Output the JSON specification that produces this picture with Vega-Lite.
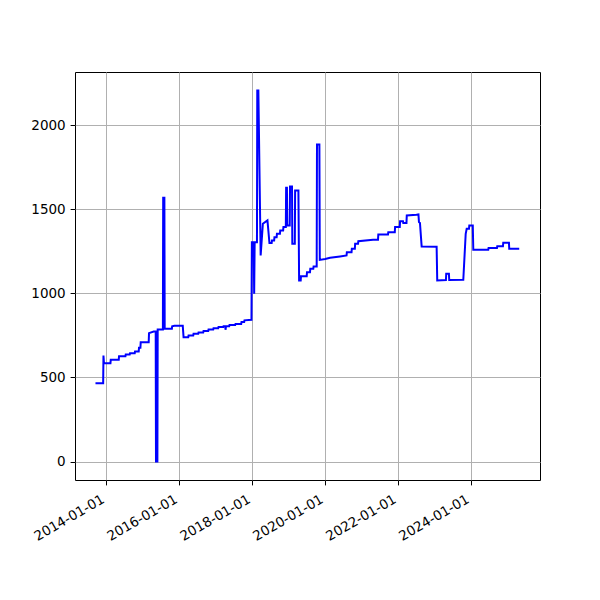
{
  "$schema": "https://vega.github.io/schema/vega-lite/v6.json",
  "width": 465,
  "height": 408,
  "autosize": {"type": "none"},
  "padding": {"left": 75, "top": 72, "right": 60, "bottom": 120},
  "background": "white",
  "config": {
    "view": {"stroke": "black", "strokeWidth": 1},
    "font": "DejaVu Sans",
    "axis": {
      "labelFont": "DejaVu Sans",
      "labelFontSize": 13.5,
      "labelColor": "black",
      "tickColor": "black",
      "tickSize": 4.9,
      "tickWidth": 1,
      "domain": false,
      "grid": true,
      "gridColor": "#b0b0b0",
      "gridWidth": 1,
      "title": null,
      "labelPadding": 4.9
    }
  },
  "data": {
    "values": [
      {"d": "2013-09-13", "v": 466},
      {"d": "2013-11-29", "v": 466},
      {"d": "2013-12-02", "v": 631},
      {"d": "2013-12-07", "v": 585},
      {"d": "2014-02-10", "v": 585},
      {"d": "2014-02-13", "v": 605},
      {"d": "2014-05-04", "v": 605},
      {"d": "2014-05-07", "v": 627},
      {"d": "2014-07-10", "v": 627},
      {"d": "2014-07-13", "v": 637},
      {"d": "2014-08-22", "v": 637},
      {"d": "2014-08-25", "v": 645},
      {"d": "2014-10-11", "v": 645},
      {"d": "2014-10-14", "v": 655},
      {"d": "2014-11-20", "v": 655},
      {"d": "2014-11-23", "v": 677},
      {"d": "2014-12-07", "v": 677},
      {"d": "2014-12-10", "v": 710},
      {"d": "2015-02-28", "v": 710},
      {"d": "2015-03-03", "v": 764},
      {"d": "2015-04-19", "v": 774},
      {"d": "2015-05-09", "v": 774},
      {"d": "2015-05-12", "v": 0},
      {"d": "2015-05-26", "v": 0},
      {"d": "2015-05-29", "v": 786},
      {"d": "2015-07-20", "v": 786},
      {"d": "2015-07-23", "v": 1570},
      {"d": "2015-08-04", "v": 1570},
      {"d": "2015-08-07", "v": 790},
      {"d": "2015-10-18", "v": 790},
      {"d": "2015-10-21", "v": 805},
      {"d": "2015-11-12", "v": 808},
      {"d": "2016-02-04", "v": 808},
      {"d": "2016-02-12", "v": 740},
      {"d": "2016-03-30", "v": 740},
      {"d": "2016-04-02", "v": 750},
      {"d": "2016-05-19", "v": 750},
      {"d": "2016-05-22", "v": 760},
      {"d": "2016-07-08", "v": 760},
      {"d": "2016-07-11", "v": 768},
      {"d": "2016-08-27", "v": 768},
      {"d": "2016-08-30", "v": 776},
      {"d": "2016-10-16", "v": 776},
      {"d": "2016-10-19", "v": 785},
      {"d": "2016-12-05", "v": 785},
      {"d": "2016-12-08", "v": 793},
      {"d": "2017-01-24", "v": 793},
      {"d": "2017-01-27", "v": 800},
      {"d": "2017-03-15", "v": 800},
      {"d": "2017-03-18", "v": 805},
      {"d": "2017-04-04", "v": 805},
      {"d": "2017-04-07", "v": 784},
      {"d": "2017-04-12", "v": 805},
      {"d": "2017-05-14", "v": 805},
      {"d": "2017-05-17", "v": 812},
      {"d": "2017-07-13", "v": 812},
      {"d": "2017-07-16", "v": 818},
      {"d": "2017-09-11", "v": 818},
      {"d": "2017-09-14", "v": 830},
      {"d": "2017-10-11", "v": 830},
      {"d": "2017-10-14", "v": 840},
      {"d": "2017-12-23", "v": 843},
      {"d": "2017-12-27", "v": 1305},
      {"d": "2018-01-14", "v": 1305},
      {"d": "2018-01-19", "v": 998},
      {"d": "2018-01-24", "v": 1305},
      {"d": "2018-02-16", "v": 1305},
      {"d": "2018-02-19", "v": 2208},
      {"d": "2018-03-02", "v": 2208},
      {"d": "2018-03-25", "v": 1226},
      {"d": "2018-04-16", "v": 1415},
      {"d": "2018-06-01", "v": 1435},
      {"d": "2018-06-21", "v": 1300},
      {"d": "2018-07-13", "v": 1300},
      {"d": "2018-07-16", "v": 1315},
      {"d": "2018-08-07", "v": 1315},
      {"d": "2018-08-10", "v": 1335},
      {"d": "2018-09-01", "v": 1335},
      {"d": "2018-09-04", "v": 1355},
      {"d": "2018-10-04", "v": 1355},
      {"d": "2018-10-07", "v": 1375},
      {"d": "2018-11-05", "v": 1375},
      {"d": "2018-11-08", "v": 1395},
      {"d": "2018-12-02", "v": 1395},
      {"d": "2018-12-05", "v": 1629},
      {"d": "2018-12-13", "v": 1629},
      {"d": "2018-12-16", "v": 1405},
      {"d": "2019-01-10", "v": 1405},
      {"d": "2019-01-13", "v": 1637},
      {"d": "2019-02-02", "v": 1637},
      {"d": "2019-02-05", "v": 1296},
      {"d": "2019-03-02", "v": 1296},
      {"d": "2019-03-05", "v": 1613},
      {"d": "2019-04-07", "v": 1613},
      {"d": "2019-04-14", "v": 1077},
      {"d": "2019-04-30", "v": 1077},
      {"d": "2019-05-03", "v": 1103},
      {"d": "2019-06-29", "v": 1103},
      {"d": "2019-07-02", "v": 1127},
      {"d": "2019-08-01", "v": 1127},
      {"d": "2019-08-04", "v": 1147},
      {"d": "2019-09-03", "v": 1147},
      {"d": "2019-09-06", "v": 1161},
      {"d": "2019-10-07", "v": 1161},
      {"d": "2019-10-10", "v": 1887},
      {"d": "2019-11-03", "v": 1887},
      {"d": "2019-11-07", "v": 1200},
      {"d": "2019-12-31", "v": 1205},
      {"d": "2020-02-18", "v": 1212},
      {"d": "2020-05-28", "v": 1220},
      {"d": "2020-08-01", "v": 1226},
      {"d": "2020-08-04", "v": 1246},
      {"d": "2020-09-20", "v": 1246},
      {"d": "2020-09-23", "v": 1266},
      {"d": "2020-10-23", "v": 1266},
      {"d": "2020-10-26", "v": 1296},
      {"d": "2020-11-24", "v": 1296},
      {"d": "2020-11-27", "v": 1311},
      {"d": "2021-04-23", "v": 1320},
      {"d": "2021-06-12", "v": 1320},
      {"d": "2021-06-15", "v": 1351},
      {"d": "2021-09-20", "v": 1351},
      {"d": "2021-09-23", "v": 1365},
      {"d": "2021-11-27", "v": 1365},
      {"d": "2021-11-30", "v": 1395},
      {"d": "2022-01-16", "v": 1395},
      {"d": "2022-01-19", "v": 1430},
      {"d": "2022-02-17", "v": 1430},
      {"d": "2022-02-20", "v": 1420},
      {"d": "2022-03-24", "v": 1420},
      {"d": "2022-03-27", "v": 1464},
      {"d": "2022-07-02", "v": 1468},
      {"d": "2022-07-22", "v": 1470},
      {"d": "2022-07-27", "v": 1425},
      {"d": "2022-08-06", "v": 1420},
      {"d": "2022-08-23", "v": 1280},
      {"d": "2023-01-20", "v": 1278},
      {"d": "2023-01-26", "v": 1077},
      {"d": "2023-04-23", "v": 1080},
      {"d": "2023-04-26", "v": 1117},
      {"d": "2023-05-23", "v": 1117},
      {"d": "2023-05-26", "v": 1080},
      {"d": "2023-10-14", "v": 1082},
      {"d": "2023-11-07", "v": 1355},
      {"d": "2023-11-17", "v": 1385},
      {"d": "2023-12-10", "v": 1385},
      {"d": "2023-12-13", "v": 1405},
      {"d": "2024-01-17", "v": 1405},
      {"d": "2024-01-22", "v": 1260},
      {"d": "2024-06-20", "v": 1260},
      {"d": "2024-06-23", "v": 1270},
      {"d": "2024-09-15", "v": 1270},
      {"d": "2024-09-18", "v": 1281},
      {"d": "2024-11-14", "v": 1281},
      {"d": "2024-11-17", "v": 1302},
      {"d": "2025-01-13", "v": 1302},
      {"d": "2025-01-16", "v": 1266},
      {"d": "2025-04-26", "v": 1266}
    ]
  },
  "mark": {"type": "line", "color": "#0000ff", "strokeWidth": 2, "clip": true},
  "encoding": {
    "x": {
      "field": "d",
      "type": "temporal",
      "scale": {
        "type": "utc",
        "domain": [
          {"year": 2013, "month": 2, "date": 20, "utc": true},
          {"year": 2025, "month": 11, "date": 20, "utc": true}
        ]
      },
      "axis": {
        "values": [
          {"year": 2014, "month": 1, "date": 1, "utc": true},
          {"year": 2016, "month": 1, "date": 1, "utc": true},
          {"year": 2018, "month": 1, "date": 1, "utc": true},
          {"year": 2020, "month": 1, "date": 1, "utc": true},
          {"year": 2022, "month": 1, "date": 1, "utc": true},
          {"year": 2024, "month": 1, "date": 1, "utc": true}
        ],
        "labelExpr": "utcFormat(datum.value, '%Y-%m-%d')",
        "labelAngle": -30,
        "labelAlign": "right",
        "labelBaseline": "top",
        "labelOffset": -7,
        "labelPadding": 7,
        "labelFlush": false,
        "labelOverlap": false
      }
    },
    "y": {
      "field": "v",
      "type": "quantitative",
      "scale": {"domain": [-110, 2318], "nice": false, "zero": false},
      "axis": {"values": [0, 500, 1000, 1500, 2000], "format": "d", "labelAlign": "right", "labelBaseline": "middle"}
    }
  }
}
